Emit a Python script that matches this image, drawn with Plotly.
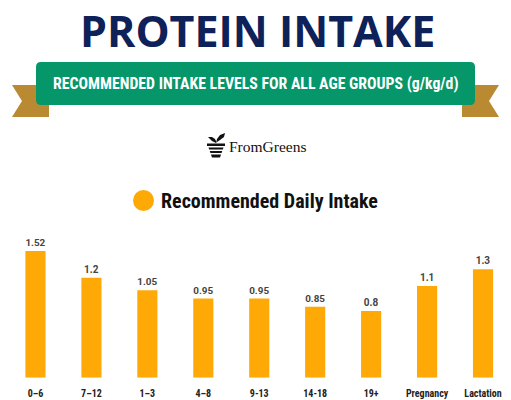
import plotly.graph_objects as go

W, H = 511, 400

age_groups = ["0–6", "7–12", "1–3", "4–8", "9-13", "14-18", "19+", "Pregnancy", "Lactation"]
intake = [1.52, 1.2, 1.05, 0.95, 0.95, 0.85, 0.8, 1.1, 1.3]
value_labels = ["1.52", "1.2", "1.05", "0.95", "0.95", "0.85", "0.8", "1.1", "1.3"]

ORANGE = "#FFA906"
NAVY = "#0E2158"
GREEN = "#05966A"
GOLD = "#B98A32"


def px(x, y):
    # pixel position -> paper coords (margins are zero)
    return x / W, 1 - y / H


def path(points):
    s = ""
    for i, (x, y) in enumerate(points):
        a, b = px(x, y)
        s += ("M" if i == 0 else "L") + f"{a:.5f},{b:.5f} "
    return s + "Z"


def rect(x0, y0, x1, y1, color):
    a0, b0 = px(x0, y0)
    a1, b1 = px(x1, y1)
    return dict(type="rect", xref="paper", yref="paper", x0=a0, y0=b1, x1=a1, y1=b0,
                fillcolor=color, line=dict(width=0), layer="below")


fig = go.Figure()

fig.add_trace(go.Bar(
    x=age_groups, y=intake,
    marker=dict(color=ORANGE, line=dict(width=0)),
    text=value_labels, textposition="outside", cliponaxis=False,
    textfont=dict(family="Roboto", size=10, color="#444", weight="bold"),
    hoverinfo="skip", showlegend=False,
))

shapes = []
# ribbon tails
shapes.append(dict(type="path", xref="paper", yref="paper", layer="below",
                   path=path([(12, 85), (49, 85), (49, 117), (12, 117), (22, 101)]),
                   fillcolor=GOLD, line=dict(width=0)))
shapes.append(dict(type="path", xref="paper", yref="paper", layer="below",
                   path=path([(499, 85), (462, 85), (462, 117), (499, 117), (489, 101)]),
                   fillcolor=GOLD, line=dict(width=0)))
# green banner with rounded corners
r = 5
x0, y0, x1, y1 = 36, 62, 475, 105
a, b = px(x0 + r, y0)
c, d = px(x1 - r, y0)
ban = f"M{a:.5f},{b:.5f} L{c:.5f},{d:.5f} "
corners = [((x1, y0), (x1, y0 + r), (x1, y1 - r)),
           ((x1, y1), (x1 - r, y1), (x0 + r, y1)),
           ((x0, y1), (x0, y1 - r), (x0, y0 + r)),
           ((x0, y0), (x0 + r, y0), None)]
for ctrl, end, nxt in corners:
    pa, pb = px(*ctrl)
    qa, qb = px(*end)
    ban += f"Q{pa:.5f},{pb:.5f} {qa:.5f},{qb:.5f} "
    if nxt:
        la, lb = px(*nxt)
        ban += f"L{la:.5f},{lb:.5f} "
ban += "Z"
shapes.append(dict(type="path", xref="paper", yref="paper", layer="below",
                   path=ban, fillcolor=GREEN, line=dict(width=0)))

# logo: plant in pot
leaf_l = path([(216, 143), (212, 141), (208, 137), (212, 137), (215, 139), (216, 141)])
leaf_r = path([(216, 143), (217, 139), (220, 135), (225, 133), (224, 137), (220, 140), (217, 142)])
for p in (leaf_l, leaf_r):
    shapes.append(dict(type="path", xref="paper", yref="paper", path=p,
                       fillcolor="#111", line=dict(width=0)))
shapes.append(rect(207, 143.5, 225, 146, "#111"))
for top, bot in [(147.5, 149.5), (151, 153), (154.5, 157.5)]:
    inset_t = 1.5 + (top - 147.5) * 0.35
    inset_b = 1.5 + (bot - 147.5) * 0.35
    shapes.append(dict(type="path", xref="paper", yref="paper",
                       path=path([(207 + inset_t, top), (225 - inset_t, top),
                                  (225 - inset_b, bot), (207 + inset_b, bot)]),
                       fillcolor="#111", line=dict(width=0)))

# legend dot
ca, cb = px(133, 190)
da, db = px(154, 211)
shapes.append(dict(type="circle", xref="paper", yref="paper", x0=ca, y0=db, x1=da, y1=cb,
                   fillcolor=ORANGE, line=dict(width=0)))


def note(text, x, y, size, color, family, xanchor="center", weight="bold", yanchor="middle"):
    a, b = px(x, y)
    return dict(text=text, x=a, y=b, xref="paper", yref="paper", showarrow=False,
                xanchor=xanchor, yanchor=yanchor,
                font=dict(family=family, size=size, color=color, weight=weight))


annotations = [
    note("PROTEIN INTAKE", 257, 0, 43, NAVY, "Open Sans", yanchor="top"),
    note("RECOMMENDED INTAKE LEVELS FOR ALL AGE GROUPS (g/kg/d)", 256, 84, 15.8, "white",
         "Roboto Condensed, Roboto"),
    note("FromGreens", 227, 147, 15.5, "#111", "Liberation Serif", xanchor="left", weight="normal"),
    note("Recommended Daily Intake", 159, 201, 20, "#111", "Roboto Condensed, Roboto", xanchor="left"),
]
annotations[0]["borderpad"] = 0

fig.update_layout(
    width=W, height=H,
    margin=dict(l=0, r=0, t=0, b=0),
    paper_bgcolor="white", plot_bgcolor="white",
    bargap=0.64,
    shapes=shapes, annotations=annotations,
    xaxis=dict(domain=[7.5 / W, 1], showgrid=False, zeroline=False, showline=False,
               ticks="", ticklabelstandoff=8,
               tickfont=dict(family="Roboto Condensed, Roboto", size=10,
                             color="#222", weight="bold")),
    yaxis=dict(domain=[22.3 / H, 1], range=[0, 377.7 / 83.35], visible=False),
)

fig.write_html("out.html", config={"displayModeBar": False},
               post_script="document.body.style.margin='0';")
